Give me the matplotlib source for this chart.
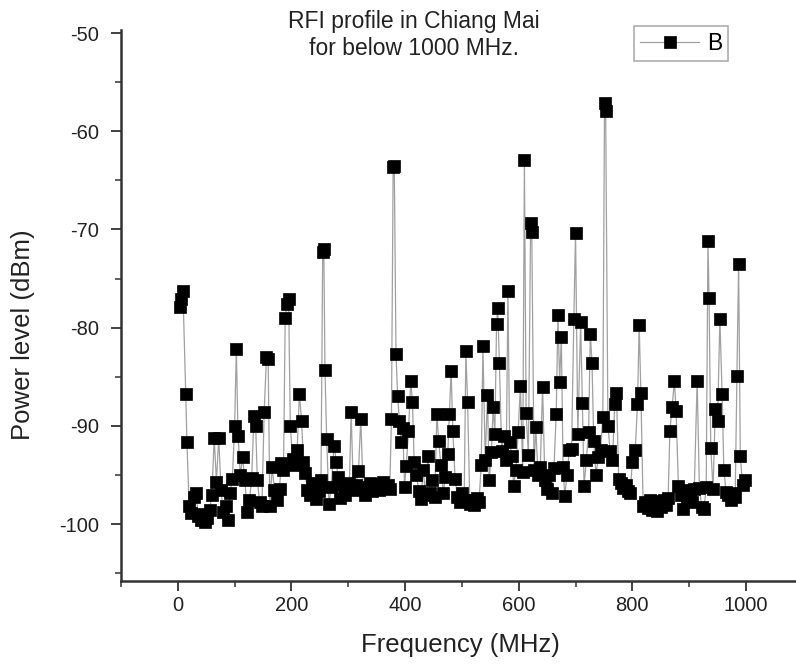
import matplotlib
matplotlib.use("Agg")
import matplotlib.pyplot as plt
from matplotlib.ticker import MultipleLocator

plt.rcParams["font.family"] = ["Liberation Sans", "DejaVu Sans"]
plt.rcParams["axes.unicode_minus"] = False

# values (frequency in MHz, level in dBm)
freq = [3, 6, 9, 14, 16, 20, 24, 28, 32, 36, 40, 44, 48, 52, 56, 60, 64, 68, 72, 76,
        80, 84, 88, 92, 96, 100, 103, 106, 110, 114, 118, 122, 126, 130, 134, 137, 140, 144, 148, 152,
        156, 159, 162, 166, 170, 174, 179, 182, 186, 189, 192, 195, 198, 202, 206, 210, 214, 218, 221, 224,
        228, 232, 236, 240, 244, 248, 252, 255, 257, 259, 262, 266, 270, 275, 279, 282, 286, 290, 294, 298,
        302, 305, 309, 313, 318, 322, 326, 330, 334, 338, 342, 346, 350, 354, 358, 362, 366, 370, 373, 376,
        379, 381, 384, 387, 390, 393, 396, 399, 402, 406, 410, 413, 416, 420, 424, 428, 432, 436, 440, 444,
        448, 452, 456, 459, 463, 467, 471, 475, 478, 481, 484, 488, 492, 496, 500, 504, 507, 510, 514, 518,
        522, 526, 530, 534, 537, 541, 545, 548, 552, 555, 558, 561, 563, 566, 570, 574, 578, 581, 584, 588,
        591, 595, 599, 603, 607, 610, 613, 617, 621, 623, 627, 630, 634, 638, 642, 646, 650, 654, 658, 662,
        666, 669, 672, 675, 678, 681, 685, 689, 693, 697, 700, 704, 709, 712, 715, 719, 723, 726, 729, 732,
        736, 740, 744, 748, 751, 753, 757, 761, 765, 769, 772, 776, 780, 784, 788, 792, 796, 800, 805, 809,
        812, 815, 819, 823, 827, 831, 835, 839, 843, 847, 851, 855, 859, 863, 866, 870, 874, 877, 881, 885,
        889, 893, 897, 901, 905, 909, 914, 918, 922, 926, 930, 933, 935, 938, 942, 946, 950, 954, 958, 961,
        965, 969, 973, 977, 981, 984, 987, 990, 994, 998]
power = [-77.9, -77.1, -76.3, -86.8, -91.6, -98.2, -98.9, -97.2, -96.8, -99.2,
         -99.6, -99.0, -99.8, -99.4, -98.6, -97.0, -91.2, -95.7, -91.2, -96.5,
         -98.8, -98.2, -99.6, -96.8, -95.4, -90.0, -82.2, -91.0, -95.0, -93.2,
         -95.5, -98.8, -97.6, -95.3, -89.0, -90.0, -95.5, -97.8, -98.2, -88.6,
         -83.0, -83.2, -98.2, -94.2, -96.5, -97.5, -96.4, -93.8, -94.5, -79.0,
         -77.6, -77.1, -90.0, -93.4, -94.0, -92.5, -86.8, -89.5, -93.7, -94.8,
         -96.5, -97.0, -95.8, -96.8, -97.4, -96.6, -95.5, -72.3, -72.0, -84.3,
         -91.3, -98.0, -96.2, -92.0, -93.7, -95.2, -97.3, -96.0, -97.0, -96.4,
         -95.8, -88.6, -96.5, -96.0, -94.6, -89.3, -96.2, -97.0, -96.3, -95.8,
         -96.6, -96.2, -95.9, -96.5, -96.1, -95.7, -96.3, -96.0, -96.4, -89.3,
         -63.6, -63.5, -82.7, -87.0, -89.5, -91.6, -90.2, -96.2, -94.1, -90.5,
         -85.4, -87.6, -93.7, -95.0, -96.6, -97.4, -94.5, -97.0, -93.1, -96.8,
         -95.5, -97.2, -88.8, -91.5, -94.0, -96.8, -95.2, -92.9, -88.8, -84.4,
         -90.5, -95.4, -97.2, -97.8, -96.8, -97.5, -82.4, -87.6, -98.0, -97.6,
         -98.1, -97.3, -97.8, -94.0, -81.9, -93.5, -86.9, -95.5, -92.7, -88.1,
         -90.8, -79.6, -78.0, -83.6, -92.6, -91.0, -93.5, -76.3, -91.6, -93.1,
         -96.1, -94.5, -90.6, -85.9, -94.7, -62.9, -88.7, -93.0, -69.3, -70.3,
         -94.5, -90.1, -95.0, -94.2, -86.0, -95.5, -96.4, -95.0, -96.8, -94.3,
         -88.8, -78.7, -85.5, -81.0, -94.2, -97.1, -95.0, -92.5, -92.4, -79.1,
         -70.4, -90.8, -79.4, -87.7, -96.1, -93.5, -90.6, -80.6, -83.6, -91.5,
         -95.0, -93.2, -92.5, -89.1, -57.1, -57.9, -90.0, -92.6, -93.5, -87.8,
         -86.7, -95.4, -95.8, -96.3, -96.0, -96.6, -96.8, -93.7, -92.5, -87.8,
         -79.7, -86.7, -98.2, -97.8, -98.4, -97.6, -98.6, -97.9, -98.7, -97.7,
         -98.3, -97.5, -98.1, -97.3, -90.5, -88.1, -85.4, -88.5, -96.1, -97.0,
         -98.5, -96.5, -97.4, -96.8, -97.8, -96.4, -85.4, -96.3, -98.3, -98.5,
         -96.2, -71.2, -77.0, -92.3, -96.4, -88.3, -89.5, -79.1, -86.8, -94.5,
         -96.7, -97.0, -97.5, -96.8, -97.2, -84.9, -73.5, -93.1, -96.0, -95.5]

fig = plt.figure(figsize=(7.96, 6.69), dpi=100)
ax = fig.add_axes([0.152, 0.1315, 0.848, 0.8235])

ax.plot(freq, power, "-", color="#a0a0a0", lw=0.9, marker="s", ms=8.3,
        mfc="black", mec="black", mew=0.5, label="B")

ax.set_xlim(-100, 1088)
ax.set_ylim(-105.8, -49.7)
ax.xaxis.set_major_locator(MultipleLocator(200))
ax.xaxis.set_minor_locator(MultipleLocator(100))
ax.yaxis.set_major_locator(MultipleLocator(10))
ax.yaxis.set_minor_locator(MultipleLocator(5))
ax.tick_params(which="major", direction="out", length=7, width=1.3, labelsize=14.5,
               colors="#333333", labelcolor="#222222")
ax.tick_params(axis="y", which="major", pad=9)
ax.tick_params(which="minor", direction="out", length=4, width=1.1, colors="#333333")
for s in ("top", "right"):
    ax.spines[s].set_visible(False)
for s in ("left", "bottom"):
    ax.spines[s].set_linewidth(1.8)
    ax.spines[s].set_color("#333333")

ax.set_xlabel("Frequency (MHz)", fontsize=18.5, color="#222222")
ax.xaxis.set_label_coords(0.503, -0.095)
ax.set_ylabel("Power level (dBm)", fontsize=18.5, color="#222222")
ax.yaxis.set_label_coords(-0.128, 0.448)

fig.text(0.52, 0.985, "RFI profile in Chiang Mai\nfor below 1000 MHz.", ha="center",
         va="top", fontsize=16.5, color="#222222", linespacing=1.2)

leg = ax.legend(loc="upper right", bbox_to_anchor=(0.915, 0.961),
                bbox_transform=fig.transFigure, fontsize=16.5, fancybox=False,
                edgecolor="#999999", handlelength=2.6, handletextpad=0.35,
                borderpad=0.25, borderaxespad=0)
leg.get_frame().set_linewidth(1.2)

fig.savefig("out.png", dpi=100)
